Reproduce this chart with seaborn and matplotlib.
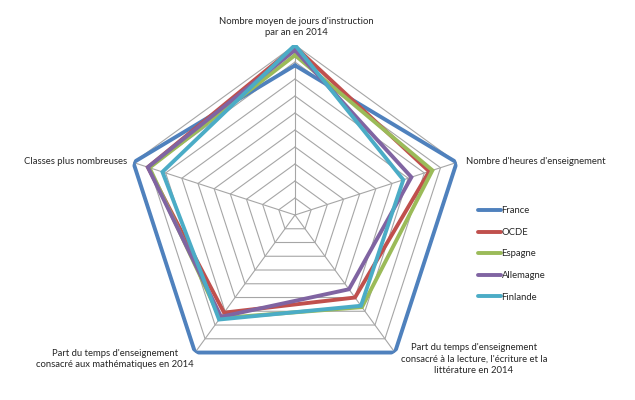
import numpy as np
import pandas as pd
import seaborn as sns
import matplotlib.pyplot as plt

# axes of the radar, clockwise from the top
criteres = ["Nombre moyen de jours d'instruction\npar an en 2014",
            "Nombre d'heures d'enseignement",
            "Part du temps d'enseignement\nconsacré à la lecture, l'écriture et la\nlittérature en 2014",
            "Part du temps d'enseignement\nconsacré aux mathématiques en 2014",
            "Classes plus nombreuses"]
pays = ["France", "OCDE", "Espagne", "Allemagne", "Finlande"]

# scores (scale 0-10, one ring per unit)
france = [8.8, 10, 10, 10, 10]
ocde = [9.9, 8.3, 6.0, 7.1, 9.1]
espagne = [9.4, 8.5, 6.7, 7.5, 9.0]
allemagne = [9.7, 7.2, 5.4, 7.4, 9.1]
finlande = [10, 6.7, 6.6, 7.6, 8.2]
couleurs = ["#4F81BD", "#C0504D", "#9BBB59", "#8064A2", "#4BACC6"]

sns.set_theme(style="white")
plt.rcParams['font.family'] = ['Lato', 'DejaVu Sans']

n = len(criteres)
angles = np.linspace(0, 2 * np.pi, n, endpoint=False)
angles_ferme = np.append(angles, 2 * np.pi)

rows = []
for nom, vals in zip(pays, [france, ocde, espagne, allemagne, finlande]):
    v = list(vals) + [vals[0]]
    for t, r in zip(angles_ferme, v):
        rows.append({"theta": t, "score": r, "pays": nom})
df = pd.DataFrame(rows)

W, H = 635, 400
fig = plt.figure(figsize=(W / 100, H / 100), dpi=100)
cx, cy, R = 295, 215, 170
ax = fig.add_axes([(cx - R) / W, (H - cy - R) / H, 2 * R / W, 2 * R / H], projection="polar")
ax.set_theta_zero_location("N")
ax.set_theta_direction(-1)

# pentagon grid
for k in range(1, 11):
    ax.plot(angles_ferme, [k] * (n + 1), color="#a6a6a6", lw=0.8, zorder=1)
for t in angles:
    ax.plot([t, t], [0, 10], color="#a6a6a6", lw=0.8, zorder=1)

sns.lineplot(data=df, x="theta", y="score", hue="pays", hue_order=pays,
             palette=couleurs, sort=False, estimator=None, linewidth=2.8,
             solid_joinstyle="miter", ax=ax, zorder=3)
ax.set_ylim(0, 10)
ax.set_axis_off()

fs = 6.8
sns.move_legend(ax, "center left", bbox_to_anchor=(478 / W, 1 - 254 / H),
                bbox_transform=fig.transFigure, frameon=False, title=None,
                fontsize=fs, handlelength=2.4, handletextpad=0.1,
                labelspacing=1.33, borderpad=0, borderaxespad=0)
for h in ax.get_legend().legend_handles:
    h.set_linewidth(2.8)

def txt(x, y, s, ha):
    fig.text(x / W, 1 - y / H, s, ha=ha, va="center", fontsize=fs,
             multialignment="center", linespacing=1.35)

txt(296, 27, criteres[0], "center")
txt(466, 162, criteres[1], "left")
txt(474, 359, criteres[2], "center")
txt(115, 359, criteres[3], "center")
txt(127, 162, criteres[4], "right")

fig.savefig("out.png", dpi=100)
